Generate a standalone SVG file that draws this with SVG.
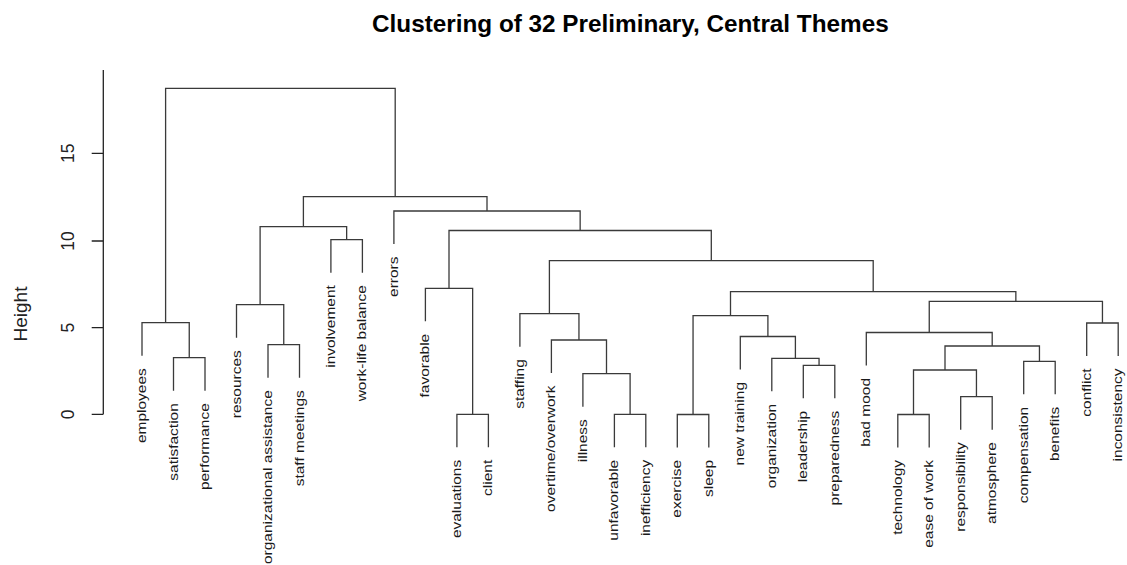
<svg xmlns="http://www.w3.org/2000/svg" width="1127" height="565" viewBox="0 0 1127 565">
  <style>
    .bg { fill: #ffffff; }
    .title { font-family: "Liberation Sans", Arial, sans-serif; font-weight: bold; font-size: 24.3px; fill: #000; }
    .axis { stroke: #222; stroke-width: 1.3; fill: none; }
    .tick { font-family: "Liberation Sans", Arial, sans-serif; font-size: 17.5px; fill: #222; text-anchor: middle; }
    .ylab { font-family: "Liberation Sans", Arial, sans-serif; font-size: 19px; fill: #222; text-anchor: middle; }
    .link { stroke: #3a3a3a; stroke-width: 1.3; fill: none; }
    .leaf { font-family: "Liberation Sans", Arial, sans-serif; font-size: 15.5px; fill: #1a1a1a; text-anchor: end; }
  </style>
  <rect class="bg" x="0" y="0" width="1127" height="565"/>

  <text class="title" x="372" y="32">Clustering of 32 Preliminary, Central Themes</text>

  <!-- height axis -->
  <g id="axis">
    <path class="axis" d="M103.3,70 V414.3 M91.7,414.3 H103.3 M91.7,327.7 H103.3 M91.7,241 H103.3 M91.7,153.3 H103.3"/>
    <text class="tick" transform="translate(73.5,414.3) rotate(-90)">0</text>
    <text class="tick" transform="translate(73.5,327.7) rotate(-90)">5</text>
    <text class="tick" transform="translate(73.5,241) rotate(-90)">10</text>
    <text class="tick" transform="translate(73.5,153.3) rotate(-90)">15</text>
    <text class="ylab" transform="translate(26.5,314) rotate(-90)">Height</text>
  </g>

  <!-- dendrogram links: each path is one merge (left child, bar, right child) -->
  <g id="connectors">
    <path class="link" d="M173.5,390.7 V357.7 H205 V390.7"/>
    <path class="link" d="M142,355.7 V322.7 H189.25 V357.7"/>
    <path class="link" d="M268,377.7 V344.7 H299.5 V377.7"/>
    <path class="link" d="M236.5,337.7 V304.7 H283.75 V344.7"/>
    <path class="link" d="M330.9,272.7 V239.7 H362.4 V272.7"/>
    <path class="link" d="M260.1,304.7 V226.7 H346.65 V239.7"/>
    <path class="link" d="M456.9,447.3 V414.3 H488.4 V447.3"/>
    <path class="link" d="M425.4,321.3 V288.3 H472.65 V414.3"/>
    <path class="link" d="M614.4,447.3 V414.3 H645.8 V447.3"/>
    <path class="link" d="M582.9,406.7 V373.7 H630.1 V414.3"/>
    <path class="link" d="M551.4,373 V340 H606.5 V373.7"/>
    <path class="link" d="M519.9,346.7 V313.7 H578.95 V340"/>
    <path class="link" d="M677.3,447.5 V414.5 H708.8 V447.5"/>
    <path class="link" d="M803.3,398.3 V365.3 H834.8 V398.3"/>
    <path class="link" d="M771.8,391.3 V358.3 H819.05 V365.3"/>
    <path class="link" d="M740.3,369.5 V336.5 H795.4 V358.3"/>
    <path class="link" d="M693.05,414.5 V315.7 H767.9 V336.5"/>
    <path class="link" d="M897.8,447.5 V414.5 H929.2 V447.5"/>
    <path class="link" d="M960.7,429.7 V396.7 H992.2 V429.7"/>
    <path class="link" d="M913.5,414.5 V370 H976.45 V396.7"/>
    <path class="link" d="M1023.7,394.3 V361.3 H1055.2 V394.3"/>
    <path class="link" d="M945,370 V346 H1039.45 V361.3"/>
    <path class="link" d="M866.3,365.5 V332.5 H992.2 V346"/>
    <path class="link" d="M1086.7,356 V323 H1118.2 V356"/>
    <path class="link" d="M929.25,332.5 V301.3 H1102.45 V323"/>
    <path class="link" d="M730.5,315.7 V291.7 H1015.85 V301.3"/>
    <path class="link" d="M549.4,313.7 V260.7 H873.2 V291.7"/>
    <path class="link" d="M449,288.3 V230.5 H711.3 V260.7"/>
    <path class="link" d="M393.9,244 V211 H580.15 V230.5"/>
    <path class="link" d="M303.4,226.7 V196.7 H487 V211"/>
    <path class="link" d="M165.6,322.7 V88.3 H395.2 V196.7"/>
  </g>

  <!-- leaf labels -->
  <g id="leaf-employees"><text class="leaf" transform="translate(146,368.2) rotate(-90) scale(1,0.8)">employees</text></g>
  <g id="leaf-satisfaction"><text class="leaf" transform="translate(177.5,403.2) rotate(-90) scale(1,0.8)">satisfaction</text></g>
  <g id="leaf-performance"><text class="leaf" transform="translate(209,403.2) rotate(-90) scale(1,0.8)">performance</text></g>
  <g id="leaf-resources"><text class="leaf" transform="translate(240.5,350.2) rotate(-90) scale(1,0.8)">resources</text></g>
  <g id="leaf-organizational-assistance"><text class="leaf" transform="translate(272,390.2) rotate(-90) scale(1,0.8)">organizational assistance</text></g>
  <g id="leaf-staff-meetings"><text class="leaf" transform="translate(303.5,390.2) rotate(-90) scale(1,0.8)">staff meetings</text></g>
  <g id="leaf-involvement"><text class="leaf" transform="translate(334.9,285.2) rotate(-90) scale(1,0.8)">involvement</text></g>
  <g id="leaf-work-life-balance"><text class="leaf" transform="translate(366.4,285.2) rotate(-90) scale(1,0.8)">work-life balance</text></g>
  <g id="leaf-errors"><text class="leaf" transform="translate(397.9,256.5) rotate(-90) scale(1,0.8)">errors</text></g>
  <g id="leaf-favorable"><text class="leaf" transform="translate(429.4,333.8) rotate(-90) scale(1,0.8)">favorable</text></g>
  <g id="leaf-evaluations"><text class="leaf" transform="translate(460.9,459.8) rotate(-90) scale(1,0.8)">evaluations</text></g>
  <g id="leaf-client"><text class="leaf" transform="translate(492.4,459.8) rotate(-90) scale(1,0.8)">client</text></g>
  <g id="leaf-staffing"><text class="leaf" transform="translate(523.9,359.2) rotate(-90) scale(1,0.8)">staffing</text></g>
  <g id="leaf-overtime-overwork"><text class="leaf" transform="translate(555.4,385.5) rotate(-90) scale(1,0.8)">overtime/overwork</text></g>
  <g id="leaf-illness"><text class="leaf" transform="translate(586.9,419.2) rotate(-90) scale(1,0.8)">illness</text></g>
  <g id="leaf-unfavorable"><text class="leaf" transform="translate(618.4,459.8) rotate(-90) scale(1,0.8)">unfavorable</text></g>
  <g id="leaf-inefficiency"><text class="leaf" transform="translate(649.8,459.8) rotate(-90) scale(1,0.8)">inefficiency</text></g>
  <g id="leaf-exercise"><text class="leaf" transform="translate(681.3,460) rotate(-90) scale(1,0.8)">exercise</text></g>
  <g id="leaf-sleep"><text class="leaf" transform="translate(712.8,460) rotate(-90) scale(1,0.8)">sleep</text></g>
  <g id="leaf-new-training"><text class="leaf" transform="translate(744.3,382) rotate(-90) scale(1,0.8)">new training</text></g>
  <g id="leaf-organization"><text class="leaf" transform="translate(775.8,403.8) rotate(-90) scale(1,0.8)">organization</text></g>
  <g id="leaf-leadership"><text class="leaf" transform="translate(807.3,410.8) rotate(-90) scale(1,0.8)">leadership</text></g>
  <g id="leaf-preparedness"><text class="leaf" transform="translate(838.8,410.8) rotate(-90) scale(1,0.8)">preparedness</text></g>
  <g id="leaf-bad-mood"><text class="leaf" transform="translate(870.3,378) rotate(-90) scale(1,0.8)">bad mood</text></g>
  <g id="leaf-technology"><text class="leaf" transform="translate(901.8,460) rotate(-90) scale(1,0.8)">technology</text></g>
  <g id="leaf-ease-of-work"><text class="leaf" transform="translate(933.2,460) rotate(-90) scale(1,0.8)">ease of work</text></g>
  <g id="leaf-responsibility"><text class="leaf" transform="translate(964.7,442.2) rotate(-90) scale(1,0.8)">responsibility</text></g>
  <g id="leaf-atmosphere"><text class="leaf" transform="translate(996.2,442.2) rotate(-90) scale(1,0.8)">atmosphere</text></g>
  <g id="leaf-compensation"><text class="leaf" transform="translate(1027.7,406.8) rotate(-90) scale(1,0.8)">compensation</text></g>
  <g id="leaf-benefits"><text class="leaf" transform="translate(1059.2,406.8) rotate(-90) scale(1,0.8)">benefits</text></g>
  <g id="leaf-conflict"><text class="leaf" transform="translate(1090.7,368.5) rotate(-90) scale(1,0.8)">conflict</text></g>
  <g id="leaf-inconsistency"><text class="leaf" transform="translate(1122.2,368.5) rotate(-90) scale(1,0.8)">inconsistency</text></g>
</svg>
